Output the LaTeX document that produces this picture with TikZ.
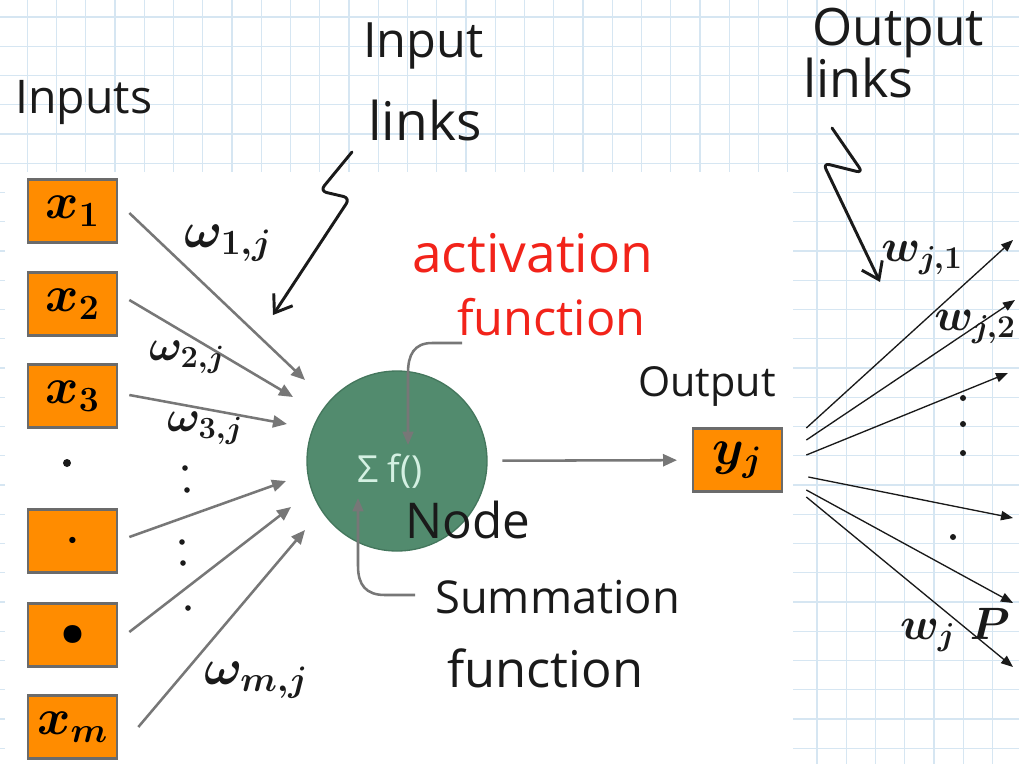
\RequirePackage{fix-cm}
\documentclass[tikz,border=0pt]{standalone}
\usepackage[no-math]{fontspec}
\newfontfamily\hand{Open Sans}
\usetikzlibrary{arrows.meta}
\definecolor{gridblue}{HTML}{D6E6F2}
\definecolor{boxorange}{HTML}{FF8C00}
\definecolor{boxedge}{HTML}{6B6B6B}
\definecolor{neurongreen}{HTML}{528B6E}
\definecolor{neuronedge}{HTML}{44775D}
\definecolor{neurontext}{HTML}{D4F0E2}
\definecolor{linkgray}{HTML}{777777}
\definecolor{inkred}{HTML}{F2231A}
\definecolor{ink}{HTML}{1A1A1A}
\newcommand\handsize[1]{\fontsize{#1}{#1}\selectfont\hand}
\newcommand\mathsize[1]{\fontsize{#1}{#1}\selectfont\boldmath}
\begin{document}
\begin{tikzpicture}[x=0.75pt,y=-0.75pt,
  gridpaper/.style={draw=gridblue, line width=1pt},
  inbox/.style={draw=boxedge, line width=2pt, fill=boxorange,
    minimum width=66.75pt, minimum height=47.25pt, inner sep=0pt},
  neuron/.style={circle, fill=neurongreen, draw=neuronedge, line width=1pt,
    minimum size=135pt, inner sep=0pt},
  txt/.style={inner sep=0pt, text=ink},
  inlink/.style={draw=linkgray, line width=1.9pt,
    -{Triangle[length=10.5pt,width=9pt]}},
  outlink/.style={draw=ink, line width=1pt,
    -{Triangle[length=9pt,width=7pt]}},
  callout/.style={draw=linkgray, line width=1.9pt,
    -{Triangle[length=10pt,width=8pt]}},
  pointer/.style={draw=ink, line width=2.2pt, line join=round, line cap=round,
    rounded corners=5pt,
    -{Straight Barb[length=12pt,width=17pt,line width=2.2pt]}},
  dotmark/.style={fill=ink, circle, inner sep=0pt, minimum size=4.5pt}
]
\useasboundingbox (0,0) rectangle (1019,764);

% squared paper
\foreach \k in {-1,...,34} {\draw[gridpaper] ({27.3+29.25*\k},0) -- ({27.3+29.25*\k},764);}
\foreach \k in {-1,...,26} {\draw[gridpaper] (0,{17+29.25*\k}) -- (1019,{17+29.25*\k});}
\fill[white] (5,172) rectangle (793,764);

% headings
\node[txt, anchor=base west, font=\handsize{34.8}] (inputs) at (15,113) {Inputs};
\node[txt, anchor=base west, font=\handsize{36.5}] (inlinks1) at (363,57) {Input};
\node[txt, anchor=base west, font=\handsize{40}] (inlinks2) at (368,140) {links};
\node[txt, anchor=base west, font=\handsize{38.7}] (outlinks1) at (812,45) {Output};
\node[txt, anchor=base west, font=\handsize{39}] (outlinks2) at (803,97) {links};
\node[txt, anchor=base west, font=\handsize{40}, text=inkred] (act1) at (412,272) {activation};
\node[txt, anchor=base west, font=\handsize{36.5}, text=inkred] (act2) at (457,335) {function};
\node[txt, anchor=base west, font=\handsize{31}] (outlabel) at (638,396) {Output};

% input units
\node[inbox, font=\mathsize{38}] (x1) at (72.5,211) {$x_1$};
\node[inbox, font=\mathsize{38}] (x2) at (72.5,304) {$x_2$};
\node[inbox, font=\mathsize{38}] (x3) at (72.5,396) {$x_3$};
\node[dotmark, minimum size=6pt] (gap) at (67,463) {};
\node[inbox, font=\mathsize{30}] (xd1) at (72.5,541) {$\cdot$};
\node[inbox, font=\mathsize{30}] (xd2) at (72.5,635) {$\bullet$};
\node[inbox, font=\mathsize{38}] (xm) at (72.5,727) {$x_m$};

% neuron and output unit
\node[neuron] (neuron) at (397,461) {};
\node[txt, text=neurontext, font=\handsize{28}] (sigmaf) at (390,471) {Σ\hspace{7pt}f()};
\node[inbox, font=\mathsize{38}] (yj) at (737.5,460) {$y_j$};

% tips of the input links
\coordinate (t1) at (305,380);
\coordinate (t2) at (293,397);
\coordinate (t3) at (287,424);
\coordinate (t4) at (286,481);
\coordinate (t5) at (291,507);
\coordinate (t6) at (305,530);
\draw[inlink] ([shift={(11,2)}]x1.east) -- (t1);
\draw[inlink] ([shift={(11,-4)}]x2.east) -- (t2);
\draw[inlink] ([shift={(11,-1)}]x3.east) -- (t3);
\draw[inlink] ([shift={(11,-4)}]xd1.east) -- (t4);
\draw[inlink] ([shift={(11,-3)}]xd2.east) -- (t5);
\draw[inlink] ([shift={(20,0)}]xm.east) -- (t6);

% input weights
\node[txt, font=\mathsize{38}] (w1) at (228,243) {$\omega_{1,j}$};
\node[txt, font=\mathsize{33}] (w2) at (187,357) {$\omega_{2,j}$};
\node[txt, font=\mathsize{33}] (w3) at (205,428) {$\omega_{3,j}$};
\node[txt, font=\mathsize{38}] (wm) at (256,680) {$\omega_{m,j}$};
\foreach \p in {(185,468),(187,490),(182,542),(183,563),(188,608)}
  \fill[ink] \p circle (2.8);

% neuron to output unit
\draw[inlink, shorten <=11pt, shorten >=11pt] (neuron) -- (yj);

% output links
\coordinate (o1) at (1013,240);
\coordinate (o2) at (1015,300);
\coordinate (o3) at (1008,373);
\coordinate (o4) at (1013,518);
\coordinate (o5) at (1013,603);
\coordinate (o6) at (1013,667);
\draw[outlink] ([shift={(23,-32)}]yj.east) -- (o1);
\draw[outlink] ([shift={(23,-20)}]yj.east) -- (o2);
\draw[outlink] ([shift={(23,-5)}]yj.east) -- (o3);
\draw[outlink] ([shift={(25,17)}]yj.east) -- (o4);
\draw[outlink] ([shift={(23,30)}]yj.east) -- (o5);
\draw[outlink] ([shift={(23,37)}]yj.east) -- (o6);
\foreach \p in {(963,398),(963,424),(963,453),(953,537)}
  \fill[ink] \p circle (3);

% output weights
\node[txt, font=\mathsize{34}] (wo1) at (922,258) {$w_{j,1}$};
\node[txt, font=\mathsize{34}] (wo2) at (975,327) {$w_{j,2}$};
\node[txt, font=\mathsize{34}] (wop) at (955,630) {$w_{j}\;P$};

% node callouts
\node[txt, anchor=base west, font=\handsize{37}] (nodelabel) at (405,538) {Node};
\node[txt, anchor=base west, font=\handsize{34}] (sum1) at (435,613) {Summation};
\node[txt, anchor=base west, font=\handsize{38}] (sum2) at (447,687) {function};

\coordinate (ftip) at (408,445);
\coordinate (stip) at (358,498);
\draw[callout] ([shift={(5,8)}]act2.base west) -- (432,343)
  .. controls (414,343) and (408,355) .. (408,373) -- (ftip);
\draw[callout] ([shift={(-20,-18)}]sum1.base west) -- (385,595)
  .. controls (366,595) and (358,585) .. (358,566) -- (stip);

% pointers to the links
\coordinate (inptip) at (273,315);
\coordinate (outptip) at (880,282);
\draw[pointer] ([shift={(-16,12)}]inlinks2.base west) -- (320,191) -- (350,198) -- (inptip);
\draw[pointer] ([shift={(29,31)}]outlinks2.base west) -- (863,173) -- (823,163) -- (outptip);
\end{tikzpicture}
\end{document}
